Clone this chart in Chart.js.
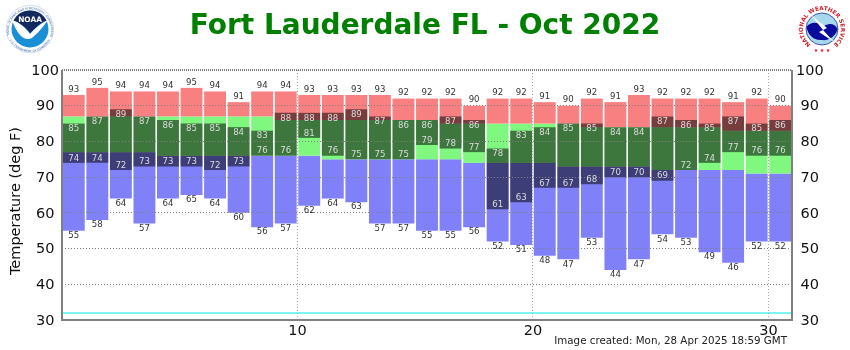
<!DOCTYPE html>
<html>
<head>
<meta charset="utf-8">
<script src="https://cdn.jsdelivr.net/npm/chart.js@4"></script>
<style>
html,body{margin:0;padding:0;background:#fff;width:850px;height:350px;overflow:hidden}
#wrap{position:relative;width:850px;height:350px}
canvas{position:absolute;left:0;top:0}
svg{position:absolute}
</style>
</head>
<body>
<div id="wrap">
<canvas id="c" width="850" height="350"></canvas>
<svg style="left:4px;top:2.5px" width="52" height="52" viewBox="0 0 52 52">
  <circle cx="26" cy="26" r="23.7" fill="#fff" stroke="#a9bcd8" stroke-width="0.5"/>
  <circle cx="26" cy="26" r="18.5" fill="#1a8fd6"/>
  <path d="M9.5 17.6 A18.5 18.5 0 0 1 42.5 17.6 C37 20 32 24 26.5 30 C21 24 15 19.6 9.5 17.6Z" fill="#12285f"/>
  <path d="M8 17 C15 19 21 24 26 31 C31 25 37 20 44 17 C39 24 33 31 28 35 C24 37 20 36 17 33 C13 29 10 23 8 17Z" fill="#fff"/>
  <text x="26" y="19" font-family="DejaVu Sans" font-weight="bold" font-size="7.4" fill="#fff" text-anchor="middle">NOAA</text>
  <defs>
    <path id="nTop" d="M5.8 33 A21 21 0 1 1 46.2 33"/>
    <path id="nBot" d="M4.2 33 A22.8 22.8 0 0 0 47.8 33"/>
  </defs>
  <text font-family="DejaVu Sans" font-size="2.9" fill="#2a5fa8"><textPath href="#nTop" startOffset="50%" text-anchor="middle">NATIONAL OCEANIC AND ATMOSPHERIC ADMINISTRATION</textPath></text>
  <text font-family="DejaVu Sans" font-size="2.9" fill="#2a5fa8"><textPath href="#nBot" startOffset="50%" text-anchor="middle">U.S. DEPARTMENT OF COMMERCE</textPath></text>
</svg>
<svg style="left:796px;top:3px" width="52" height="52" viewBox="0 0 52 52">
  <circle cx="26" cy="26" r="16" fill="#a8d8f0" stroke="#1c2f9a" stroke-width="0.8"/>
  <path d="M10.5 24 C15 18 23 19 27 24 C33 19 39 21 41.5 26 C40 33 33 38 26 37 C18 38 12 32 10.5 24Z" fill="#0a0a9c"/>
  <path d="M15 12 L31 25 L27 27 L38 39 L23 29 L27 27 Z" fill="#fff"/>
  <defs>
    <path id="wArc" d="M17.6 43.2 A19 19 0 1 1 34.4 43.2"/>
  </defs>
  <text font-family="DejaVu Sans" font-weight="bold" font-size="5.7" fill="#d0202a"><textPath href="#wArc" startOffset="50%" text-anchor="middle">NATIONAL WEATHER SERVICE</textPath></text>
  <text x="26" y="49" font-family="DejaVu Sans" font-size="5" fill="#d0202a" text-anchor="middle">★ ★ ★</text>
</svg>
</div>
<script>
const days = [1,2,3,4,5,6,7,8,9,10,11,12,13,14,15,16,17,18,19,20,21,22,23,24,25,26,27,28,29,30,31];
const recordHigh = [93,95,94,94,94,95,94,91,94,94,93,93,93,93,92,92,92,90,92,92,91,90,92,91,93,92,92,92,91,92,90];
const recordLow  = [55,58,64,57,64,65,64,60,56,57,62,64,63,57,57,55,55,56,52,51,48,47,53,44,47,54,53,49,46,52,52];
const normalHigh = [87,87,87,87,87,87,87,87,87,86,86,86,86,86,86,86,85,85,85,85,85,85,84,84,84,84,84,84,83,83,83];
const normalLow  = [77,77,77,77,76,76,76,76,76,76,76,75,75,75,75,75,75,74,74,74,74,73,73,73,73,72,72,72,72,71,71];
const obsHigh    = [85,87,89,87,86,85,85,84,83,88,88,88,89,87,86,86,87,86,78,83,84,85,85,84,84,87,86,85,87,85,86];
const obsLow     = [74,74,72,73,73,73,72,73,76,76,81,76,75,75,75,79,78,77,61,63,67,67,68,70,70,69,72,74,77,76,76];
const yTicks = [30,40,50,60,70,80,90,100];
const freezing = 32;
const titleText = 'Fort Lauderdale FL - Oct 2022';
const yTitle = 'Temperature (deg F)';
const creditText = 'Image created: Mon, 28 Apr 2025 18:59 GMT';

const FONT = '"DejaVu Sans", Verdana, sans-serif';
const pair = (a, b) => a.map((v, i) => [v, b[i]]);

const overlay = {
  id: 'overlay',
  beforeDatasetsDraw(chart) {
    const {ctx, chartArea: a, scales: {y}} = chart;
    ctx.save();
    ctx.strokeStyle = '#50f0f0';
    ctx.lineWidth = 1.5;
    const py = Math.round(y.getPixelForValue(freezing));
    ctx.beginPath(); ctx.moveTo(a.left, py); ctx.lineTo(a.right, py); ctx.stroke();
    ctx.restore();
  },
  afterDraw(chart) {
    const {ctx, chartArea: a, scales: {x, y}} = chart;
    ctx.save();
    ctx.textAlign = 'center';
    ctx.textBaseline = 'middle';
    ctx.font = '8.6px ' + FONT;
    days.forEach((d, i) => {
      const px = x.getPixelForValue(i);
      ctx.fillStyle = '#333';
      ctx.fillText(recordHigh[i], px, y.getPixelForValue(recordHigh[i]) - 5.5);
      ctx.fillText(recordLow[i], px, y.getPixelForValue(recordLow[i]) + 5);
      ctx.fillStyle = '#dcdcdc';
      ctx.fillText(obsHigh[i], px, y.getPixelForValue(obsHigh[i]) + 5.5);
      ctx.fillText(obsLow[i], px, y.getPixelForValue(obsLow[i]) - 4.5);
    });
    ctx.strokeStyle = '#808080';
    ctx.lineWidth = 2;
    ctx.beginPath();
    ctx.moveTo(a.left, a.top); ctx.lineTo(a.left, a.bottom); ctx.lineTo(a.right, a.bottom); ctx.lineTo(a.right, a.top);
    ctx.stroke();
    ctx.setLineDash([1, 1]);
    ctx.beginPath(); ctx.moveTo(a.left, a.top); ctx.lineTo(a.right, a.top); ctx.stroke();
    ctx.setLineDash([]);
    ctx.fillStyle = '#222';
    ctx.font = '10.3px ' + FONT;
    ctx.textAlign = 'right';
    ctx.fillText(creditText, 787, 341);
    ctx.translate(16, 201);
    ctx.rotate(-Math.PI / 2);
    ctx.textAlign = 'center';
    ctx.fillStyle = '#111';
    ctx.font = '14.5px ' + FONT;
    ctx.fillText(yTitle, 0, 0);
    ctx.restore();
  }
};

const barOpts = {categoryPercentage: 1, barPercentage: 0.93, borderWidth: 0, grouped: false};

new Chart(document.getElementById('c'), {
  type: 'bar',
  data: {
    labels: days,
    datasets: [
      {label: 'Observed', data: pair(obsLow, obsHigh), backgroundColor: 'rgba(0,0,0,0.52)', order: 0, ...barOpts},
      {label: 'Record high range', data: pair(normalHigh, recordHigh), backgroundColor: '#f88080', order: 1, ...barOpts},
      {label: 'Normal range', data: pair(normalLow, normalHigh), backgroundColor: '#80f880', order: 2, ...barOpts},
      {label: 'Record low range', data: pair(recordLow, normalLow), backgroundColor: '#8080f8', order: 3, ...barOpts}
    ]
  },
  options: {
    responsive: false,
    animation: false,
    layout: {padding: 0},
    plugins: {
      legend: {display: false},
      tooltip: {enabled: false},
      title: {
        display: true,
        text: titleText,
        color: '#008000',
        font: {family: FONT, size: 28, weight: 'bold', lineHeight: 1.2},
        padding: {top: 10, bottom: 26.4}
      }
    },
    scales: {
      x: {
        type: 'category',
        offset: true,
        afterFit: s => { s.height = 30; },
        grid: {
          z: 1,
          offset: true,
          drawTicks: false,
          color: ctx => (ctx.index % 10 === 0 && ctx.index > 0 && ctx.index < days.length) ? '#a8a8a8' : 'rgba(0,0,0,0)',
          lineWidth: 1
        },
        border: {display: false, dash: [1, 2]},
        ticks: {
          autoSkip: false,
          maxRotation: 0,
          minRotation: 0,
          padding: 3,
          labelOffset: 11.77,
          color: '#111',
          font: {family: FONT, size: 14.5},
          callback: (v, i) => days[i] % 10 === 0 ? String(days[i]) : ''
        }
      },
      y: {
        position: 'left',
        min: 30,
        max: 100,
        afterFit: s => { s.width = 62; },
        afterBuildTicks: s => { s.ticks = yTicks.map(v => ({value: v})); },
        grid: {
          z: 1,
          drawTicks: false,
          color: ctx => (ctx.tick && ctx.tick.value > 30 && ctx.tick.value < 100) ? '#808080' : 'rgba(0,0,0,0)',
          lineWidth: 1
        },
        border: {display: false, dash: [1, 2]},
        ticks: {crossAlign: 'center', padding: 3, labelOffset: 1, color: '#111', font: {family: FONT, size: 14.5}}
      },
      y2: {
        position: 'right',
        min: 30,
        max: 100,
        afterFit: s => { s.width = 58; },
        afterBuildTicks: s => { s.ticks = yTicks.map(v => ({value: v})); },
        grid: {display: false, drawTicks: false},
        border: {display: false},
        ticks: {crossAlign: 'center', padding: 4, labelOffset: 1, color: '#111', font: {family: FONT, size: 14.5}}
      }
    }
  },
  plugins: [overlay]
});
</script>
</body>
</html>
